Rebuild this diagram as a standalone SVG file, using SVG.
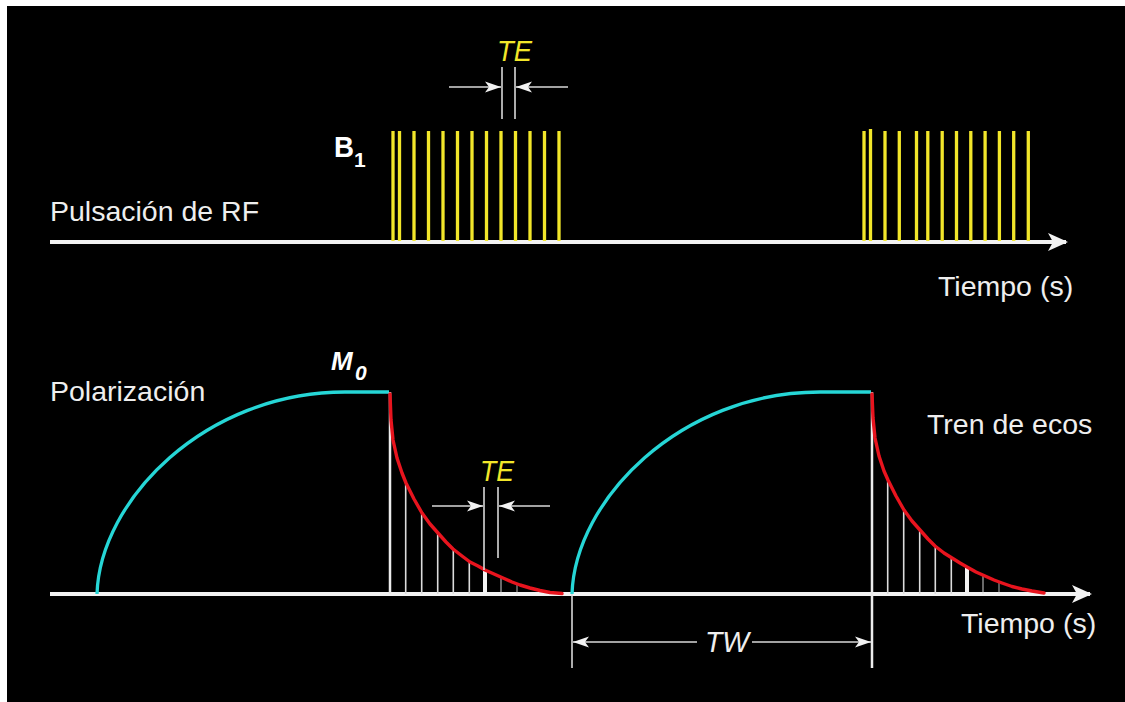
<svg xmlns="http://www.w3.org/2000/svg" width="1125" height="702" viewBox="0 0 1125 702">
<defs>
<style>
.axis{stroke:#f2f2f2;stroke-width:4;fill:none}
.pulse{stroke:#f2e62a;stroke-width:3.3}
.cyan{stroke:#26d6d6;stroke-width:3.3;fill:none;stroke-linejoin:round}
.red{stroke:#e8141e;stroke-width:3.4;fill:none;stroke-linejoin:round;stroke-linecap:round}
.wv{stroke:#ececec;stroke-width:2.5}
.stick{stroke:#dcdcdc;stroke-width:1.6}
.thick{stroke:#f2f2f2;stroke-width:4}
.dim{stroke:#d8d8d8;stroke-width:1.6;fill:none}
.lbl{font-family:"Liberation Sans",Arial,sans-serif;fill:#eeeeee;font-size:28.5px}
.ital{font-family:"Liberation Sans",Arial,sans-serif;font-style:italic}
.bold{font-family:"Liberation Sans",Arial,sans-serif;font-weight:bold;fill:#ffffff}
</style>
<marker id="ah" viewBox="0 0 16 12" refX="16" refY="6" markerWidth="16" markerHeight="12" markerUnits="userSpaceOnUse" orient="auto">
<path d="M0,0.5 L16,6 L0,11.5 L4,6 Z" fill="#f2f2f2"/>
</marker>
<marker id="axh" viewBox="0 0 20 20" refX="18" refY="10" markerWidth="20" markerHeight="20" markerUnits="userSpaceOnUse" orient="auto">
<path d="M0,1 L20,10 L0,19 L5,10 Z" fill="#f2f2f2"/>
</marker>
</defs>
<rect x="0" y="0" width="1125" height="702" fill="#ffffff"/>
<rect x="7" y="6" width="1118" height="696" fill="#000000"/>

<g id="connectors">
<line class="axis" x1="50" y1="242" x2="1066" y2="242" marker-end="url(#axh)"/>
<line class="axis" x1="50" y1="594" x2="1090" y2="594" marker-end="url(#axh)"/>
</g>

<g id="pulses1">
<line class="pulse" x1="393" y1="131" x2="393" y2="241"/>
<line class="pulse" x1="399.5" y1="131" x2="399.5" y2="241"/>
<line class="pulse" x1="414" y1="131" x2="414" y2="241"/>
<line class="pulse" x1="428.5" y1="131" x2="428.5" y2="241"/>
<line class="pulse" x1="443" y1="131" x2="443" y2="241"/>
<line class="pulse" x1="457.5" y1="131" x2="457.5" y2="241"/>
<line class="pulse" x1="472" y1="131" x2="472" y2="241"/>
<line class="pulse" x1="486.5" y1="131" x2="486.5" y2="241"/>
<line class="pulse" x1="501" y1="131" x2="501" y2="241"/>
<line class="pulse" x1="515.5" y1="131" x2="515.5" y2="241"/>
<line class="pulse" x1="530" y1="131" x2="530" y2="241"/>
<line class="pulse" x1="544.5" y1="131" x2="544.5" y2="241"/>
<line class="pulse" x1="559" y1="131" x2="559" y2="241"/>
</g>

<g id="pulses2">
<line class="pulse" x1="864" y1="131" x2="864" y2="241"/>
<line class="pulse" x1="870.5" y1="129" x2="870.5" y2="241"/>
<line class="pulse" x1="885" y1="131" x2="885" y2="241"/>
<line class="pulse" x1="899.3" y1="131" x2="899.3" y2="241"/>
<line class="pulse" x1="916.5" y1="131" x2="916.5" y2="241"/>
<line class="pulse" x1="927.8" y1="131" x2="927.8" y2="241"/>
<line class="pulse" x1="942.2" y1="131" x2="942.2" y2="241"/>
<line class="pulse" x1="956.5" y1="131" x2="956.5" y2="241"/>
<line class="pulse" x1="970.8" y1="131" x2="970.8" y2="241"/>
<line class="pulse" x1="985.1" y1="131" x2="985.1" y2="241"/>
<line class="pulse" x1="999.4" y1="131" x2="999.4" y2="241"/>
<line class="pulse" x1="1013.7" y1="131" x2="1013.7" y2="241"/>
<line class="pulse" x1="1028.3" y1="131" x2="1028.3" y2="241"/>
</g>

<g id="te-top">
<line class="dim" x1="502" y1="67" x2="502" y2="119"/>
<line class="dim" x1="515" y1="67" x2="515" y2="119"/>
<line class="dim" x1="449" y1="87" x2="501" y2="87" marker-end="url(#ah)"/>
<line class="dim" x1="568" y1="87" x2="516" y2="87" marker-end="url(#ah)"/>
<text class="ital" x="497" y="61" font-size="30" fill="#f2e62a" textLength="35" lengthAdjust="spacingAndGlyphs">TE</text>
</g>

<g id="b1">
<text class="bold" x="334" y="157" font-size="29" textLength="20" lengthAdjust="spacingAndGlyphs">B</text>
<text class="bold" x="354" y="167" font-size="21">1</text>
</g>

<g id="labels">
<text class="lbl" x="50" y="221">Pulsación de RF</text>
<text class="lbl" x="938" y="296">Tiempo (s)</text>
<text class="lbl" x="50" y="401">Polarización</text>
<text class="lbl" x="927" y="434">Tren de ecos</text>
<text class="lbl" x="961" y="633">Tiempo (s)</text>
</g>

<g id="m0">
<text class="bold ital" x="331" y="370" font-size="26" font-weight="bold" fill="#ffffff">M</text>
<text class="bold ital" x="355" y="380" font-size="21" font-weight="bold" fill="#ffffff">0</text>
</g>

<g id="cycle1">
<path class="cyan" d="M97,594 C100,500 205,392 345,392 L389,392"/>
<line class="wv" x1="390" y1="392" x2="390" y2="594"/>
<line class="stick" x1="405.7" y1="483" x2="405.7" y2="594"/>
<line class="stick" x1="421.7" y1="513" x2="421.7" y2="594"/>
<line class="stick" x1="437.7" y1="533" x2="437.7" y2="594"/>
<line class="stick" x1="453.3" y1="549" x2="453.3" y2="594"/>
<line class="stick" x1="469.3" y1="561" x2="469.3" y2="594"/>
<line class="thick" x1="485" y1="570" x2="485" y2="594"/>
<line class="stick" x1="501" y1="577" x2="501" y2="594" opacity="0.6"/>
<line class="stick" x1="517" y1="584" x2="517" y2="594" opacity="0.5"/>
<polyline class="red" points="390,394 391,420 393,440 397,458 402,473 406,483 414,499 422,513 430,524 438,533 446,542 453,549 462,556 470,562 478,566 485,570 494,574 503,578 512,582 520,585 530,588 540,590.5 550,592.5 562,593.5"/>
</g>

<g id="te-bottom">
<line class="dim" x1="484" y1="487" x2="484" y2="570"/>
<line class="dim" x1="498" y1="487" x2="498" y2="558"/>
<line class="dim" x1="432" y1="506" x2="483" y2="506" marker-end="url(#ah)"/>
<line class="dim" x1="550" y1="506" x2="499" y2="506" marker-end="url(#ah)"/>
<text class="ital" x="480" y="481" font-size="30" fill="#f2e62a" textLength="34" lengthAdjust="spacingAndGlyphs">TE</text>
</g>

<g id="cycle2">
<path class="cyan" d="M572,594 C575,500 680,392 820,392 L871,392"/>
<line class="wv" x1="872" y1="392" x2="872" y2="668"/>
<line class="stick" x1="887.7" y1="480" x2="887.7" y2="594"/>
<line class="stick" x1="903.7" y1="510" x2="903.7" y2="594"/>
<line class="stick" x1="919.7" y1="530" x2="919.7" y2="594"/>
<line class="stick" x1="935.3" y1="546" x2="935.3" y2="594"/>
<line class="stick" x1="951.3" y1="558" x2="951.3" y2="594"/>
<line class="thick" x1="967" y1="568" x2="967" y2="594"/>
<line class="stick" x1="983" y1="576" x2="983" y2="594" opacity="0.6"/>
<line class="stick" x1="999" y1="582" x2="999" y2="594" opacity="0.5"/>
<polyline class="red" points="872,394 873,418 875,438 879,456 884,471 888,480 896,496 904,510 912,521 920,530 928,539 935,546 944,553 952,558 960,563 967,567 976,572 985,576 994,580 1002,583 1012,586.5 1022,589 1032,591 1044,593"/>
</g>

<g id="tw">
<line class="dim" x1="572" y1="594" x2="572" y2="668"/>
<line class="dim" x1="697" y1="642" x2="573" y2="642" marker-end="url(#ah)"/>
<line class="dim" x1="752" y1="642" x2="871" y2="642" marker-end="url(#ah)"/>
<text class="ital" x="705" y="652" font-size="29" fill="#eeeeee" textLength="44" lengthAdjust="spacingAndGlyphs">TW</text>
</g>
</svg>
